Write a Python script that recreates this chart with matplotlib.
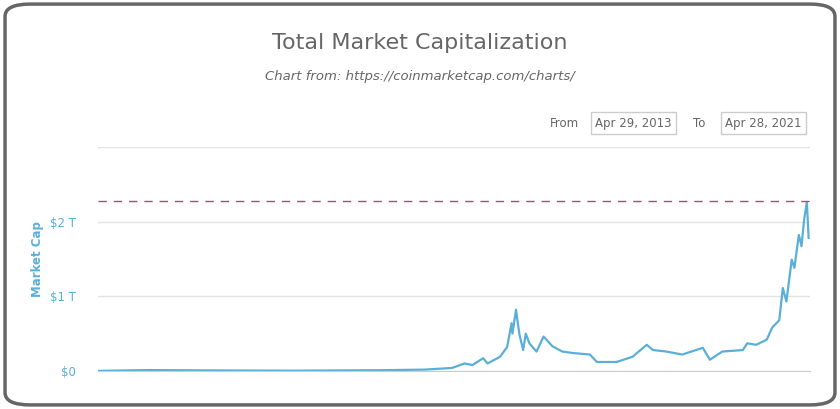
import matplotlib.pyplot as plt
from matplotlib.patches import FancyBboxPatch

# decimal years and market cap in trillions USD
years = [2013.33, 2013.9, 2014.5, 2015.5, 2016.5, 2017.0, 2017.31, 2017.45, 2017.54, 2017.66,
         2017.71, 2017.85, 2017.93, 2017.98, 2017.99, 2018.03, 2018.05, 2018.07, 2018.11, 2018.14,
         2018.18, 2018.26, 2018.34, 2018.44, 2018.55, 2018.67, 2018.86, 2018.94, 2019.16, 2019.34,
         2019.5, 2019.57, 2019.72, 2019.9, 2020.13, 2020.21, 2020.35, 2020.58, 2020.63, 2020.73,
         2020.85, 2020.91, 2020.99, 2021.03, 2021.07, 2021.13, 2021.16, 2021.21, 2021.24, 2021.27,
         2021.3, 2021.31, 2021.32]
cap = [0.0015, 0.012, 0.008, 0.004, 0.01, 0.018, 0.04, 0.1, 0.08, 0.17,
       0.1, 0.19, 0.32, 0.64, 0.5, 0.82, 0.64, 0.48, 0.28, 0.5,
       0.37, 0.26, 0.46, 0.33, 0.26, 0.24, 0.22, 0.12, 0.12, 0.19,
       0.35, 0.28, 0.26, 0.22, 0.31, 0.15, 0.26, 0.28, 0.37, 0.35,
       0.42, 0.58, 0.68, 1.11, 0.93, 1.49, 1.38, 1.82, 1.67, 2.03,
       2.26, 2.03, 1.78]
ath = 2.28
yticks = [0, 1, 2, 3]
ylabels = ['$0', '$1 T', '$2 T', '']

fig = plt.figure(figsize=(8.4, 4.09), dpi=100)
fig.patches.append(FancyBboxPatch((0.006, 0.01), 0.988, 0.98, boxstyle='round,pad=0,rounding_size=0.03',
                                  transform=fig.transFigure, fill=False, ec='#666666', lw=2.5))

fig.text(0.5, 0.895, 'Total Market Capitalization', ha='center', va='center', fontsize=16, color='#666666')
fig.text(0.5, 0.812, 'Chart from: https://coinmarketcap.com/charts/', ha='center', va='center',
         fontsize=9.5, color='#666666', style='italic')

fig.text(0.672, 0.699, 'From', ha='center', va='center', fontsize=8.5, color='#666666')
fig.text(0.754, 0.699, 'Apr 29, 2013', ha='center', va='center', fontsize=8.5, color='#666666',
         bbox=dict(boxstyle='square,pad=0.35', fc='white', ec='#cccccc'))
fig.text(0.832, 0.699, 'To', ha='center', va='center', fontsize=8.5, color='#666666')
fig.text(0.909, 0.699, 'Apr 28, 2021', ha='center', va='center', fontsize=8.5, color='#666666',
         bbox=dict(boxstyle='square,pad=0.35', fc='white', ec='#cccccc'))

ax = fig.add_axes([0.1167, 0.093, 0.847, 0.548])
ax.plot(years, cap, color='#5aafd8', lw=1.6)
ax.axhline(ath, color='#8a5a7a', lw=1, ls=(0, (6, 5)))
ax.set_xlim(2013.33, 2021.33)
ax.set_ylim(0, 3)
ax.set_yticks(yticks)
ax.set_yticklabels(ylabels, color='#5aafd8', fontsize=8.5)
ax.set_xticks([])
ax.grid(axis='y', color='#e3e3e3', lw=1)
ax.set_axisbelow(True)
for s in ['top', 'right', 'left']:
    ax.spines[s].set_visible(False)
ax.spines['bottom'].set_color('#cccccc')
ax.tick_params(axis='y', length=0, pad=16)
ax.set_ylabel('Market Cap', color='#5aafd8', fontsize=8.5, fontweight='bold', labelpad=4)

fig.savefig('out.png')
